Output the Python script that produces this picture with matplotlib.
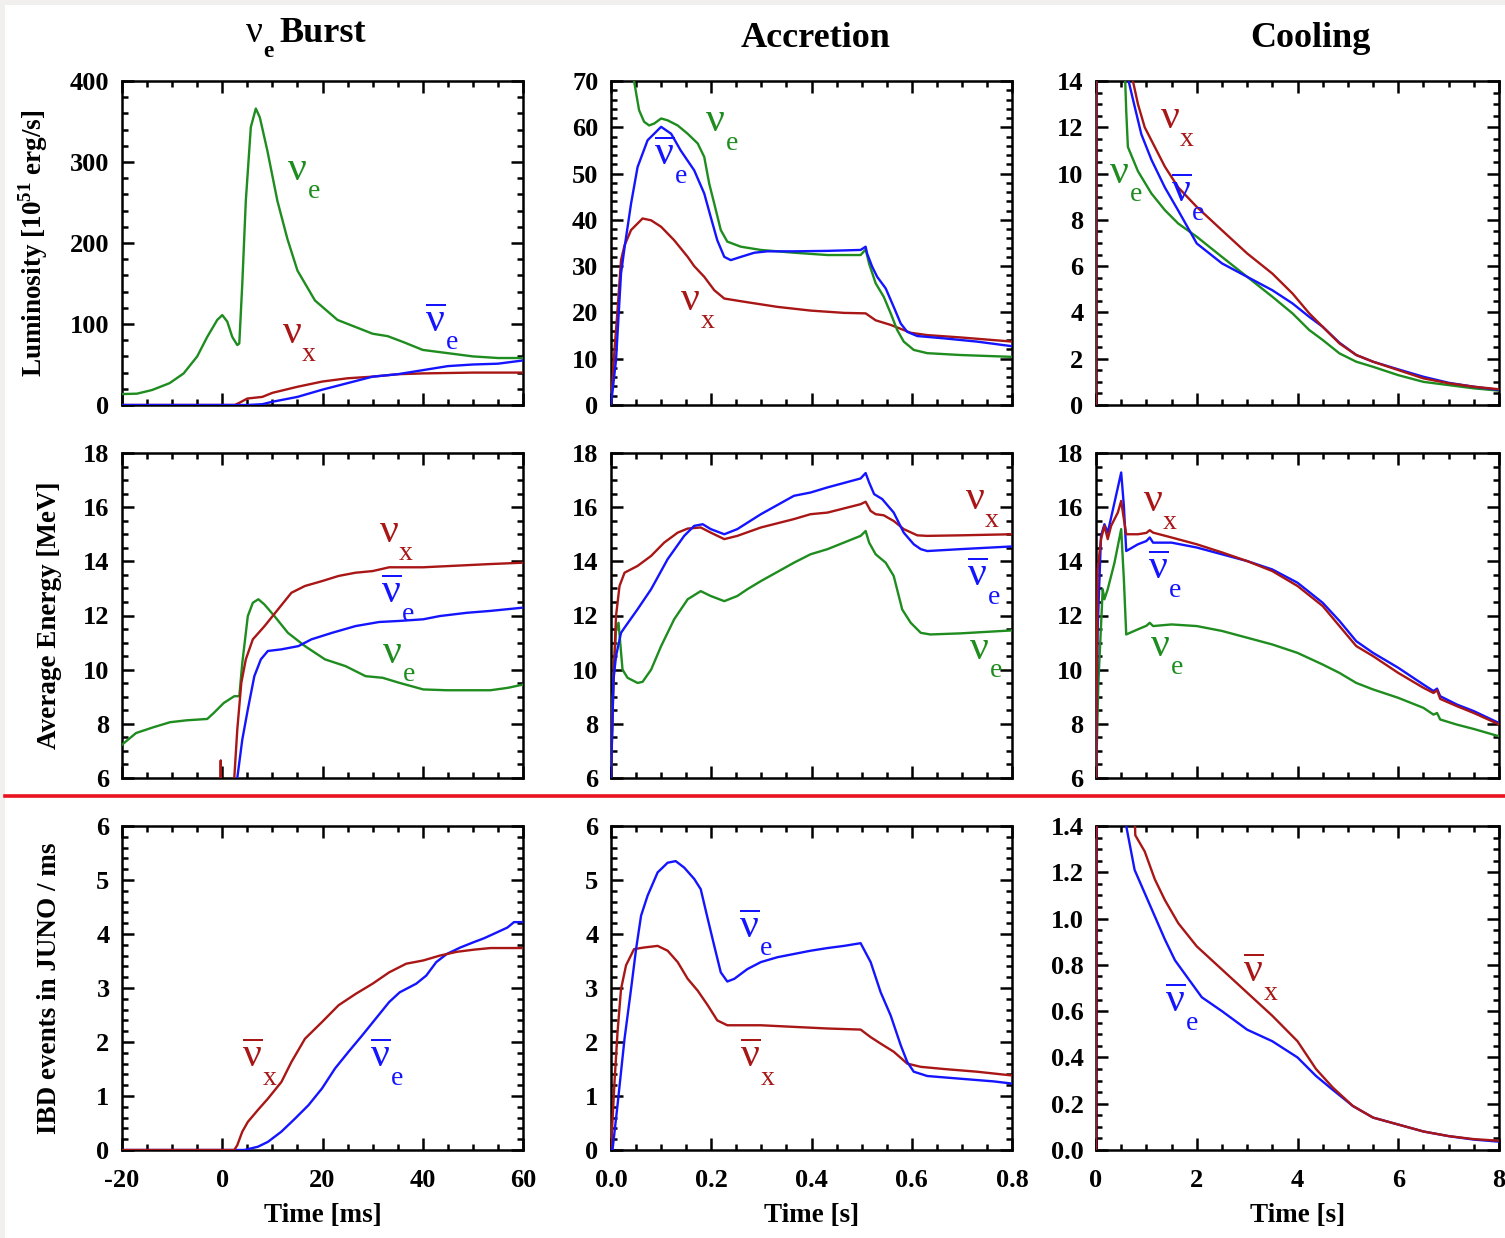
import matplotlib
matplotlib.use('Agg')
from matplotlib import pyplot as plt
from matplotlib.ticker import MultipleLocator
from matplotlib.lines import Line2D
from matplotlib.patches import Rectangle

plt.rcParams['font.family'] = 'Liberation Serif'
plt.rcParams['font.weight'] = 'bold'
plt.rcParams['axes.labelweight'] = 'bold'
plt.rcParams['axes.unicode_minus'] = False
plt.rcParams['mathtext.fontset'] = 'custom'
plt.rcParams['mathtext.rm'] = 'Liberation Serif:weight=normal'
plt.rcParams['mathtext.bf'] = 'Liberation Serif:bold'

GREEN = '#1e8c1e'
BLUE = '#1414ff'
RED = '#a81616'

# ---------------- data: luminosity ----------------
# nu_e burst [ms], 10^51 erg/s
burst_t_nue = [-20, -17, -14, -10.5, -7.7, -5, -3, -1, 0, 1, 2, 3, 3.4, 4, 4.7, 5.7, 6.7, 7.5, 9, 11, 13,
               15, 18.5, 23, 30, 33, 36, 40, 45, 50, 55, 60]
burst_L_nue = [13.5, 14, 18.5, 27, 39, 60, 84, 105, 111, 103, 84, 74, 76, 150, 252, 343, 366, 355, 314, 252, 205,
               166, 129, 105, 88, 85, 78, 68, 64, 60, 58, 58]
burst_t_nux = [-20, 2.5, 3.5, 5, 8, 10, 15, 20, 25, 30, 35, 40, 50, 60]
burst_L_nux = [0, 0, 3, 8, 10, 15, 22.5, 29, 33, 35, 38, 39, 40, 40]
burst_t_anue = [-20, 5, 8, 10, 15, 20, 25, 30, 35, 40, 45, 50, 55, 60]
burst_L_anue = [0, 0, 1, 4, 10, 19, 27, 35, 38, 43, 48, 50, 51, 55]

# accretion [s]
acc_t_nue = [0.03, 0.046, 0.056, 0.066, 0.076, 0.086, 0.10, 0.113, 0.133, 0.153, 0.173, 0.186, 0.196, 0.206,
             0.219, 0.232, 0.259, 0.299, 0.365, 0.432, 0.498, 0.508, 0.515, 0.528, 0.544, 0.558, 0.571, 0.584,
             0.604, 0.631, 0.697, 0.8]
acc_L_nue = [85, 70, 63.7, 61.2, 60.4, 60.8, 61.9, 61.5, 60.4, 58.6, 56.5, 53.6, 47.8, 43.5,
             37.8, 35.3, 34.2, 33.5, 32.9, 32.4, 32.4, 33.6, 30.5, 26.3, 23.4, 19.8, 16.2, 13.7,
             11.9, 11.2, 10.8, 10.4]
acc_t_anue = [0, 0.01, 0.02, 0.027, 0.04, 0.053, 0.073, 0.10, 0.12, 0.139, 0.166, 0.186, 0.199, 0.212, 0.226,
              0.239, 0.259, 0.286, 0.312, 0.365, 0.432, 0.498, 0.508, 0.511, 0.521, 0.531, 0.548, 0.564, 0.578,
              0.591, 0.611, 0.664, 0.73, 0.8]
acc_L_anue = [0, 9.7, 28.4, 34, 43.5, 51.4, 57.2, 60.1, 58.6, 55, 50.7, 45.7, 40.6, 35.6, 32,
              31.3, 32, 32.9, 33.2, 33.2, 33.3, 33.5, 34.2, 32.7, 29.9, 27.7, 25.2, 21.2, 17.6,
              15.8, 14.9, 14.4, 13.7, 12.7]
acc_t_nux = [0, 0.007, 0.013, 0.02, 0.027, 0.04, 0.063, 0.08, 0.10, 0.126, 0.153, 0.166, 0.186, 0.206, 0.226,
             0.266, 0.332, 0.398, 0.465, 0.508, 0.528, 0.558, 0.598, 0.631, 0.697, 0.8]
acc_L_nux = [0, 11.9, 20.5, 31.3, 34.5, 37.8, 40.3, 39.9, 38.5, 35.6, 32, 30, 27.7, 24.8, 23,
             22.3, 21.2, 20.4, 19.9, 19.8, 18.3, 17.3, 15.6, 15.1, 14.6, 13.7]

# cooling [s]
cool_t_nue = [0, 0.01, 0.5, 0.58, 0.6, 0.633, 0.833, 1.1, 1.367, 1.633, 2.0, 2.5, 3.0, 3.5, 3.9, 4.233, 4.5,
              4.833, 5.167, 5.5, 6.0, 6.5, 7.0, 7.5, 8.0]
cool_L_nue = [0, 40, 32.4, 14, 12.7, 11.15, 10.1, 9.14, 8.42, 7.84, 7.27, 6.4, 5.54, 4.68, 3.96, 3.24, 2.81,
              2.23, 1.87, 1.65, 1.29, 1.0, 0.86, 0.72, 0.62]
cool_t_anue = [0, 0.01, 0.5, 0.647, 0.767, 0.9, 1.1, 1.367, 1.633, 2.0, 2.5, 3.0, 3.5, 3.9, 4.233, 4.5,
               4.833, 5.167, 5.5, 6.0, 6.5, 7.0, 7.5, 8.0]
cool_L_anue = [0, 40, 33.5, 14, 12.9, 11.7, 10.6, 9.4, 8.4, 6.98, 6.12, 5.54, 4.96, 4.39, 3.81, 3.38,
               2.69, 2.16, 1.87, 1.54, 1.22, 0.96, 0.79, 0.65]
cool_t_nux = [0, 0.01, 0.5, 0.733, 0.833, 0.967, 1.167, 1.367, 1.633, 2.0, 2.5, 3.0, 3.5, 3.9, 4.233, 4.5,
              4.833, 5.167, 5.5, 6.0, 6.5, 7.0, 7.5, 8.0]
cool_L_nux = [0, 40, 19.8, 14, 13.0, 12.0, 11.15, 10.3, 9.4, 8.56, 7.55, 6.55, 5.68, 4.82, 3.96, 3.38,
              2.66, 2.16, 1.87, 1.51, 1.15, 0.94, 0.79, 0.68]

# ---------------- data: average energy [MeV] ----------------
eburst_t_nue = [-20, -17.2, -13.8, -10.4, -7.1, -3.0, -1.7, 0.3, 2.4, 3.4, 4.0, 5.1, 6.1, 7.2, 8.4, 10.4, 13.1,
                16.5, 20.5, 24.6, 28.6, 32, 35.4, 40.1, 44.8, 50.2, 53.5, 57, 60]
eburst_E_nue = [7.23, 7.66, 7.87, 8.06, 8.13, 8.18, 8.4, 8.77, 9.02, 9.02, 10.25, 11.98, 12.47, 12.6, 12.41,
                11.98, 11.36, 10.87, 10.38, 10.13, 9.76, 9.7, 9.51, 9.27, 9.24, 9.24, 9.24, 9.33, 9.45]
eburst_t_nux = [-0.5, -0.3, -0.1, 2.0, 2.4, 3.0, 3.8, 4.7, 6.1, 8.4, 11.1, 13.8, 16.5, 19.9, 23.2, 26.6, 30,
                33.3, 40, 46.8, 53.5, 60]
eburst_E_nux = [4, 6.65, 4, 4, 6, 7.79, 9.51, 10.38, 11.12, 11.6, 12.22, 12.84, 13.09, 13.27, 13.46, 13.58,
                13.64, 13.78, 13.78, 13.84, 13.9, 13.95]
eburst_t_anue = [2.5, 3.0, 4.0, 5.1, 6.4, 7.7, 9.1, 11.8, 15.2, 17.8, 21.9, 26.6, 31.3, 35.4, 40.1, 43.4,
                 48.8, 53.5, 60]
eburst_E_anue = [4, 6, 7.42, 8.53, 9.76, 10.38, 10.69, 10.75, 10.87, 11.12, 11.36, 11.61, 11.76, 11.8, 11.86,
                 11.98, 12.1, 12.17, 12.29]

eacc_t_nux = [0, 0.005, 0.01, 0.017, 0.027, 0.053, 0.08, 0.106, 0.133, 0.153, 0.179, 0.199, 0.226, 0.252,
              0.299, 0.365, 0.398, 0.432, 0.498, 0.508, 0.518, 0.528, 0.544, 0.564, 0.584, 0.611, 0.631,
              0.697, 0.8]
eacc_E_nux = [6, 9.64, 11.98, 13.09, 13.58, 13.83, 14.2, 14.69, 15.06, 15.21, 15.25, 15.06, 14.82, 14.94,
              15.25, 15.56, 15.74, 15.8, 16.11, 16.2, 15.86, 15.74, 15.7, 15.49, 15.19, 14.96, 14.94,
              14.96, 15.0]
eacc_t_anue = [0, 0.005, 0.01, 0.02, 0.027, 0.053, 0.08, 0.113, 0.146, 0.166, 0.183, 0.199, 0.226, 0.252,
               0.299, 0.365, 0.398, 0.432, 0.498, 0.508, 0.515, 0.525, 0.541, 0.564, 0.584, 0.604, 0.618,
               0.631, 0.697, 0.8]
eacc_E_anue = [6, 9.64, 10.5, 11.36, 11.55, 12.23, 12.97, 14.08, 14.94, 15.31, 15.37, 15.19, 15.0, 15.19,
               15.74, 16.42, 16.54, 16.73, 17.06, 17.26, 16.91, 16.48, 16.3, 15.8, 15.06, 14.63, 14.45,
               14.38, 14.45, 14.55]
eacc_t_nue = [0, 0.003, 0.01, 0.015, 0.019, 0.023, 0.033, 0.053, 0.063, 0.08, 0.10, 0.126, 0.153, 0.179,
              0.199, 0.226, 0.252, 0.272, 0.299, 0.365, 0.398, 0.432, 0.498, 0.508, 0.515, 0.528, 0.548,
              0.564, 0.581, 0.598, 0.618, 0.637, 0.697, 0.8]
eacc_E_nue = [6, 8.77, 11.49, 11.73, 10.87, 10.0, 9.7, 9.51, 9.55, 10.0, 10.87, 11.86, 12.6, 12.9,
              12.72, 12.53, 12.72, 12.97, 13.27, 13.95, 14.26, 14.45, 14.94, 15.12, 14.69, 14.26, 13.95,
              13.46, 12.22, 11.73, 11.36, 11.3, 11.34, 11.45]

ecool_t_nux = [0, 0.033, 0.1, 0.167, 0.233, 0.3, 0.433, 0.5, 0.553, 0.6, 0.833, 1.0, 1.067, 1.133, 1.5, 2.0,
               2.5, 3.0, 3.5, 4.0, 4.5, 4.833, 5.167, 5.5, 6.0, 6.5, 6.7, 6.77, 6.833, 7.167, 7.5, 8.0]
ecool_E_nux = [6, 13.7, 14.82, 15.31, 14.82, 15.31, 15.8, 16.23, 15.56, 15.0, 15.0, 15.05, 15.15, 15.06,
               14.88, 14.63, 14.33, 14.01, 13.64, 13.09, 12.35, 11.61, 10.87, 10.5, 9.88, 9.33, 9.14, 9.24,
               8.92, 8.65, 8.4, 7.98]
ecool_t_anue = [0, 0.033, 0.1, 0.167, 0.233, 0.367, 0.5, 0.553, 0.6, 0.833, 1.0, 1.067, 1.133, 1.5, 2.0,
                2.5, 3.0, 3.5, 4.0, 4.5, 4.833, 5.167, 5.5, 6.0, 6.5, 6.7, 6.77, 6.833, 7.167, 7.5, 8.0]
ecool_E_anue = [6, 11.49, 14.94, 15.37, 15.06, 16.17, 17.28, 16.05, 14.38, 14.63, 14.75, 14.88, 14.69,
                14.69, 14.51, 14.26, 14.01, 13.7, 13.21, 12.47, 11.8, 11.05, 10.62, 10.07, 9.45, 9.21, 9.3,
                9.02, 8.71, 8.47, 8.03]
ecool_t_nue = [0, 0.047, 0.133, 0.167, 0.233, 0.367, 0.5, 0.553, 0.6, 0.833, 1.0, 1.067, 1.133, 1.5, 2.0,
               2.5, 3.0, 3.5, 4.0, 4.5, 4.833, 5.167, 5.5, 6.0, 6.5, 6.7, 6.77, 6.833, 7.167, 7.5, 8.0]
ecool_E_nue = [6, 9.51, 12.97, 12.6, 12.97, 13.95, 15.19, 13.34, 11.3, 11.49, 11.62, 11.73, 11.61, 11.67,
               11.61, 11.43, 11.18, 10.93, 10.62, 10.19, 9.88, 9.51, 9.27, 8.96, 8.59, 8.34, 8.4, 8.16,
               7.97, 7.81, 7.54]

# ---------------- data: IBD events in JUNO per ms ----------------
ibd_burst_t_anux = [-20, 2.4, 3.0, 4.0, 5.1, 7.1, 9.1, 11.8, 13.8, 16.5, 19.9, 23.2, 26.6, 30, 33.3, 36.7,
                    40.1, 43.4, 46.8, 50.2, 53.5, 60]
ibd_burst_R_anux = [0, 0, 0.09, 0.34, 0.52, 0.74, 0.95, 1.26, 1.63, 2.06, 2.37, 2.68, 2.89, 3.08, 3.29,
                    3.45, 3.51, 3.6, 3.67, 3.71, 3.74, 3.74]
ibd_burst_t_anue = [-20, 4.4, 7.1, 9.1, 11.8, 14.5, 17.2, 19.9, 22.5, 25.2, 27.9, 30.6, 33.3, 35.4, 38.7,
                    40.7, 42.7, 44.8, 47.5, 50.2, 52.2, 54.8, 56.9, 58.2, 60]
ibd_burst_R_anue = [0, 0, 0.06, 0.15, 0.34, 0.58, 0.83, 1.14, 1.51, 1.82, 2.12, 2.43, 2.74, 2.92, 3.08,
                    3.23, 3.48, 3.63, 3.75, 3.85, 3.92, 4.03, 4.12, 4.22, 4.22]

ibd_acc_t_anue = [0, 0.003, 0.013, 0.027, 0.04, 0.05, 0.06, 0.073, 0.093, 0.113, 0.129, 0.146, 0.166, 0.179,
                  0.193, 0.206, 0.219, 0.232, 0.246, 0.272, 0.299, 0.332, 0.365, 0.398, 0.432, 0.465, 0.498,
                  0.518, 0.538, 0.558, 0.578, 0.591, 0.604, 0.631, 0.697, 0.764, 0.8]
ibd_acc_R_anue = [0, 0, 0.83, 2.06, 2.98, 3.72, 4.34, 4.71, 5.14, 5.32, 5.35, 5.23, 5.02, 4.83,
                  4.28, 3.78, 3.29, 3.12, 3.17, 3.35, 3.48, 3.57, 3.63, 3.69, 3.74, 3.78, 3.83,
                  3.48, 2.92, 2.49, 1.94, 1.63, 1.45, 1.37, 1.32, 1.27, 1.23]
ibd_acc_t_anux = [0, 0.007, 0.013, 0.02, 0.03, 0.046, 0.066, 0.093, 0.113, 0.133, 0.153, 0.173, 0.193, 0.212,
                  0.232, 0.266, 0.299, 0.365, 0.432, 0.498, 0.518, 0.538, 0.564, 0.591, 0.618, 0.664, 0.73, 0.8]
ibd_acc_R_anux = [0, 1.26, 2.18, 2.98, 3.42, 3.72, 3.75, 3.78, 3.69, 3.48, 3.17, 2.95, 2.68, 2.4,
                  2.31, 2.31, 2.31, 2.28, 2.25, 2.23, 2.09, 1.97, 1.82, 1.6, 1.54, 1.5, 1.45, 1.38]

ibd_cool_t_anue = [0, 0.02, 0.5, 0.6, 0.767, 0.967, 1.167, 1.367, 1.567, 1.833, 2.1, 2.5, 3.0, 3.5, 4.0, 4.367,
                   4.7, 5.1, 5.5, 6.0, 6.5, 7.0, 7.5, 8.0]
ibd_cool_R_anue = [0, 3.0, 3.8, 1.4, 1.21, 1.11, 1.01, 0.91, 0.82, 0.74, 0.66, 0.6, 0.52, 0.47, 0.4, 0.32,
                   0.26, 0.19, 0.14, 0.11, 0.08, 0.06, 0.045, 0.036]
ibd_cool_t_anux = [0, 0.02, 0.5, 0.767, 0.78, 0.967, 1.167, 1.367, 1.633, 2.0, 2.5, 3.0, 3.5, 4.0, 4.367, 4.7,
                   5.1, 5.5, 6.0, 6.5, 7.0, 7.5, 8.0]
ibd_cool_R_anux = [0, 3.0, 2.23, 1.45, 1.36, 1.29, 1.17, 1.08, 0.98, 0.88, 0.78, 0.68, 0.58, 0.47, 0.35, 0.27,
                   0.19, 0.14, 0.11, 0.08, 0.06, 0.047, 0.04]

col_titles = ['Burst', 'Accretion', 'Cooling']
row_ylabels = [r'Luminosity [10$^{\mathbf{51}}$ erg/s]', 'Average Energy [MeV]', 'IBD events in JUNO / ms']
col_xlabels = ['Time [ms]', 'Time [s]', 'Time [s]']
col_xlims = [(-20, 60), (0, 0.8), (0, 8)]
col_xticks = [(20, 5), (0.2, 0.05), (2, 0.5)]
ylims = [[(0, 400), (0, 70), (0, 14)], [(6, 18)] * 3, [(0, 6), (0, 6), (0, 1.4)]]
yticks = [[(100, 20), (10, 2), (2, 0.5)], [(2, 0.5)] * 3, [(1, 0.2), (1, 0.2), (0.2, 0.05)]]

# ---------------- figure ----------------
W, H = 1505, 1238
fig = plt.figure(figsize=(W / 100, H / 100), dpi=100)
fig.patch.set_facecolor('#f1f0ee')
fig.patches.append(Rectangle((5 / W, 0), 1, 1 - 5 / H, transform=fig.transFigure,
                             facecolor='white', edgecolor='none', zorder=-10))

lefts, rights = [122, 611, 1096], [523, 1012, 1499]
tops, bottoms = [81, 453, 826], [405, 778, 1150]
axes = [[fig.add_axes([l / W, 1 - b / H, (r - l) / W, (b - t) / H])
         for l, r in zip(lefts, rights)] for t, b in zip(tops, bottoms)]


def nu_label(ax, x, y, sub, color, bar=False):
    # big nu with a low subscript, (x, y) = centre of the nu glyph
    nu = r'$\overline{\mathrm{\nu}}$' if bar else 'ν'
    ax.annotate(nu, (x, y), xytext=(0, -7), textcoords='offset points', ha='center',
                va='baseline', fontsize=30, fontweight='normal', color=color)
    ax.annotate(sub, (x, y), xytext=(12, -20), textcoords='offset points', ha='center',
                va='baseline', fontsize=20, fontweight='normal', color=color)


for i in range(3):
    for j in range(3):
        ax = axes[i][j]
        ax.set_xlim(*col_xlims[j])
        ax.set_ylim(*ylims[i][j])
        ax.xaxis.set_major_locator(MultipleLocator(col_xticks[j][0]))
        ax.xaxis.set_minor_locator(MultipleLocator(col_xticks[j][1]))
        ax.yaxis.set_major_locator(MultipleLocator(yticks[i][j][0]))
        ax.yaxis.set_minor_locator(MultipleLocator(yticks[i][j][1]))
        ax.tick_params(which='both', direction='in', top=True, right=True, width=1.8,
                       labelsize=19)
        ax.tick_params(axis='y', pad=9)
        ax.tick_params(axis='x', pad=14)
        ax.tick_params(which='major', length=8.5)
        ax.tick_params(which='minor', length=4.5)
        for s in ax.spines.values():
            s.set_linewidth(1.8)
        if i < 2:
            ax.tick_params(labelbottom=False)
        else:
            ax.set_xlabel(col_xlabels[j], fontsize=19.5)
            ax.xaxis.set_label_coords(0.5, -0.165)
        if j == 0:
            ax.set_ylabel(row_ylabels[i], fontsize=19.5)
            ax.yaxis.set_label_coords(-0.18 if i == 0 else -0.15, 0.5)

lw = 1.7
kw = dict(lw=lw, zorder=3)

# luminosity
ax = axes[0][0]
ax.plot(burst_t_nue, burst_L_nue, color=GREEN, **kw)
ax.plot(burst_t_nux, burst_L_nux, color=RED, **kw)
ax.plot(burst_t_anue, burst_L_anue, color=BLUE, **kw)
nu_label(ax, 15, 290, 'e', GREEN)
nu_label(ax, 14, 88, 'x', RED)
nu_label(ax, 42.5, 103, 'e', BLUE, bar=True)

ax = axes[0][1]
ax.plot(acc_t_nux, acc_L_nux, color=RED, **kw)
ax.plot(acc_t_nue, acc_L_nue, color=GREEN, **kw)
ax.plot(acc_t_anue, acc_L_anue, color=BLUE, **kw)
nu_label(ax, 0.209, 61.2, 'e', GREEN)
nu_label(ax, 0.106, 54, 'e', BLUE, bar=True)
nu_label(ax, 0.159, 22.7, 'x', RED)

ax = axes[0][2]
ax.plot(cool_t_nue, cool_L_nue, color=GREEN, **kw)
ax.plot(cool_t_anue, cool_L_anue, color=BLUE, **kw)
ax.plot(cool_t_nux, cool_L_nux, color=RED, **kw)
nu_label(ax, 1.467, 12.4, 'x', RED)
nu_label(ax, 0.467, 10.0, 'e', GREEN)
nu_label(ax, 1.7, 9.2, 'e', BLUE, bar=True)

# average energy
ax = axes[1][0]
ax.plot(eburst_t_nue, eburst_E_nue, color=GREEN, **kw)
ax.plot(eburst_t_nux, eburst_E_nux, color=RED, **kw)
ax.plot(eburst_t_anue, eburst_E_anue, color=BLUE, **kw)
nu_label(ax, 33.3, 15.06, 'x', RED)
nu_label(ax, 33.7, 12.84, 'e', BLUE, bar=True)
nu_label(ax, 34, 10.6, 'e', GREEN)

ax = axes[1][1]
ax.plot(eacc_t_nue, eacc_E_nue, color=GREEN, **kw)
ax.plot(eacc_t_nux, eacc_E_nux, color=RED, **kw)
ax.plot(eacc_t_anue, eacc_E_anue, color=BLUE, **kw)
nu_label(ax, 0.727, 16.3, 'x', RED)
nu_label(ax, 0.73, 13.46, 'e', BLUE, bar=True)
nu_label(ax, 0.734, 10.75, 'e', GREEN)

ax = axes[1][2]
ax.plot(ecool_t_nue, ecool_E_nue, color=GREEN, **kw)
ax.plot(ecool_t_anue, ecool_E_anue, color=BLUE, **kw)
ax.plot(ecool_t_nux, ecool_E_nux, color=RED, **kw)
nu_label(ax, 1.13, 16.23, 'x', RED)
nu_label(ax, 1.23, 13.7, 'e', BLUE, bar=True)
nu_label(ax, 1.27, 10.87, 'e', GREEN)

# IBD rate
ax = axes[2][0]
ax.plot(ibd_burst_t_anue, ibd_burst_R_anue, color=BLUE, **kw)
ax.plot(ibd_burst_t_anux, ibd_burst_R_anux, color=RED, **kw)
nu_label(ax, 6.1, 1.72, 'x', RED, bar=True)
nu_label(ax, 31.6, 1.72, 'e', BLUE, bar=True)

ax = axes[2][1]
ax.plot(ibd_acc_t_anux, ibd_acc_R_anux, color=RED, **kw)
ax.plot(ibd_acc_t_anue, ibd_acc_R_anue, color=BLUE, **kw)
nu_label(ax, 0.276, 4.12, 'e', BLUE, bar=True)
nu_label(ax, 0.279, 1.72, 'x', RED, bar=True)

ax = axes[2][2]
ax.plot(ibd_cool_t_anue, ibd_cool_R_anue, color=BLUE, **kw)
ax.plot(ibd_cool_t_anux, ibd_cool_R_anux, color=RED, **kw)
nu_label(ax, 3.13, 0.77, 'x', RED, bar=True)
nu_label(ax, 1.567, 0.64, 'e', BLUE, bar=True)

# column titles
fig.text(254 / W, 1 - 42 / H, 'ν', ha='center', va='baseline', fontsize=27, fontweight='normal')
fig.text(268 / W, 1 - 57 / H, 'e', ha='center', va='baseline', fontsize=17)
fig.text(279 / W, 1 - 42 / H, col_titles[0], ha='left', va='baseline', fontsize=26)
fig.text(816 / W, 1 - 47 / H, col_titles[1], ha='center', va='baseline', fontsize=26)
fig.text(1310 / W, 1 - 47 / H, col_titles[2], ha='center', va='baseline', fontsize=26)

# red separator between the energy and event-rate rows
fig.add_artist(Line2D([5 / W, 1], [1 - 796 / H, 1 - 796 / H], color='#e8131f', lw=2.6))

fig.savefig('out.png', dpi=100, facecolor=fig.get_facecolor())
